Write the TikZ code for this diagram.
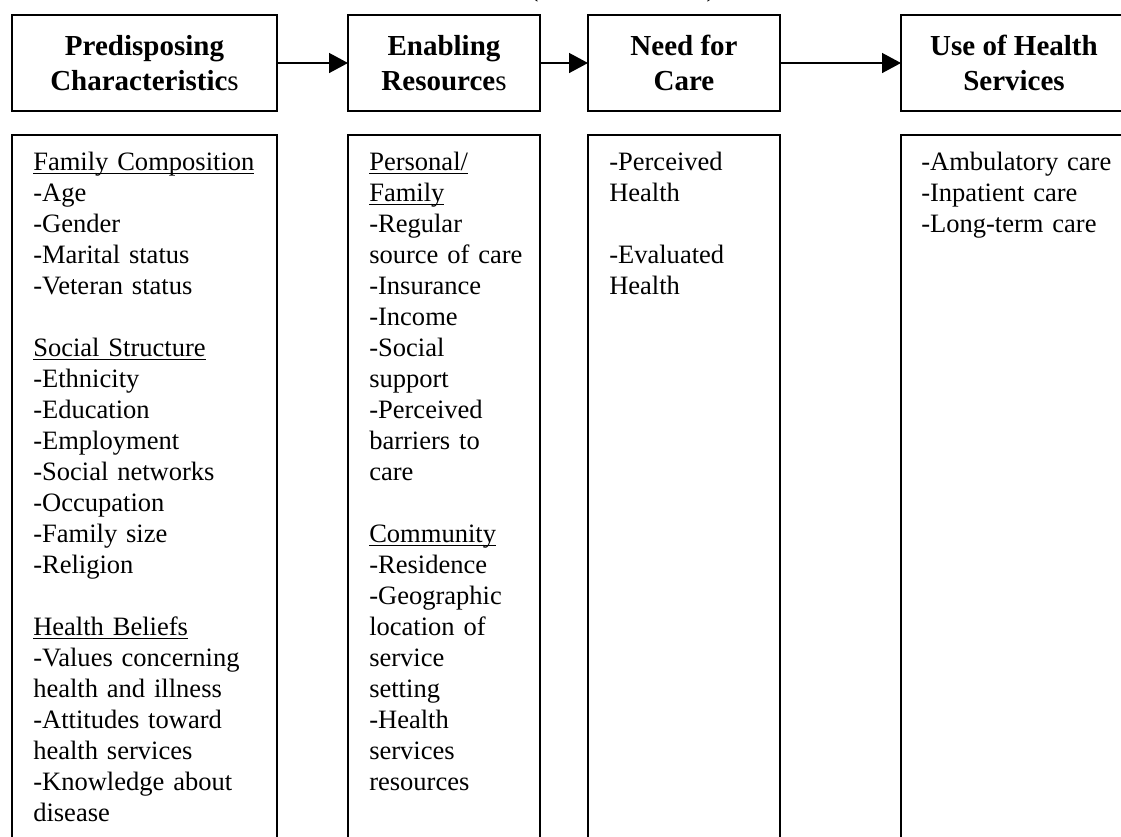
\documentclass[tikz,border=0pt]{standalone}
\usepackage{fontspec}
\setmainfont{Liberation Serif}
\usetikzlibrary{arrows.meta}

% Word-style underline: a rule just below the baseline, crossing descenders
\newsavebox\ulinebox
\newcommand\undl[1]{\leavevmode\sbox\ulinebox{#1}\rlap{\rule[-3.1pt]{\wd\ulinebox}{0.95pt}}\usebox\ulinebox}

\tikzset{
  hdr/.style={draw, line width=1.1pt, outer sep=0pt, inner sep=0pt,
    minimum height=72pt, align=center,
    font=\bfseries\fontsize{21.75pt}{26.5pt}\selectfont},
  panel/.style={draw, line width=1.1pt, outer sep=0pt, inner sep=0pt,
    minimum height=540pt},
  bodytext/.style={anchor=north west, inner sep=0pt, text width=250pt,
    align=left, font=\fontsize{19.9pt}{23.25pt}\selectfont},
  flow/.style={line width=1.1pt, -{Triangle[length=14.25pt,width=15pt]}},
}

\begin{document}
\begin{tikzpicture}[x=0.75pt, y=-0.75pt]
  \useasboundingbox (0,0) rectangle (1121,836);
  \clip (0,0) rectangle (1121,836);

  % caption line above the figure (only its lowest part lies on the page)
  \node[anchor=base, inner sep=0pt, font=\fontsize{19.9pt}{23.25pt}\selectfont]
    (caption) at (622.5,-4) {(Andersen, 1995)};

  % the four stages of the model
  \node[hdr, minimum width=198.75pt] (h1) at (144.5,63) {Predisposing\\Characteristic{\mdseries s}};
  \node[hdr, minimum width=144pt]    (h2) at (444,63)   {Enabling\\Resource{\mdseries s}};
  \node[hdr, minimum width=144pt]    (h3) at (684,63)   {Need for\\Care};
  \node[hdr, minimum width=169.5pt]  (h4) at (1014,63)  {Use of Health\\Services};

  \draw[flow] (h1.east) -- (h2.west);
  \draw[flow] (h2.east) -- (h3.west);
  \draw[flow] (h3.east) -- (h4.west);

  % columns listing the factors of each stage
  \node[panel, anchor=north west, minimum width=198.75pt] (p1) at (12,135) {};
  \node[panel, anchor=north west, minimum width=144pt]    (p2) at (348,135) {};
  \node[panel, anchor=north west, minimum width=144pt]    (p3) at (588,135) {};
  \node[panel, anchor=north west, minimum width=169.5pt]  (p4) at (901,135) {};

  \node[bodytext] (t1) at (33,148.3) {\strut\undl{Family Composition}\\
    -Age\\
    -Gender\\
    -Marital status\\
    -Veteran status\\
    \strut\\
    \undl{Social Structure}\\
    -Ethnicity\\
    -Education\\
    -Employment\\
    -Social networks\\
    -Occupation\\
    -Family size\\
    -Religion\\
    \strut\\
    \undl{Health Beliefs}\\
    -Values concerning\\
    health and illness\\
    -Attitudes toward\\
    health services\\
    -Knowledge about\\
    disease};

  \node[bodytext] (t2) at (369,148.3) {\strut\undl{Personal/}\\
    \undl{Family}\\
    -Regular\\
    source of care\\
    -Insurance\\
    -Income\\
    -Social\\
    support\\
    -Perceived\\
    barriers to\\
    care\\
    \strut\\
    \undl{Community}\\
    -Residence\\
    -Geographic\\
    location of\\
    service\\
    setting\\
    -Health\\
    services\\
    resources};

  \node[bodytext] (t3) at (609,148.3) {\strut -Perceived\\
    Health\\
    \strut\\
    -Evaluated\\
    Health};

  \node[bodytext] (t4) at (921,148.3) {\strut -Ambulatory care\\
    -Inpatient care\\
    -Long-term care};
\end{tikzpicture}
\end{document}
